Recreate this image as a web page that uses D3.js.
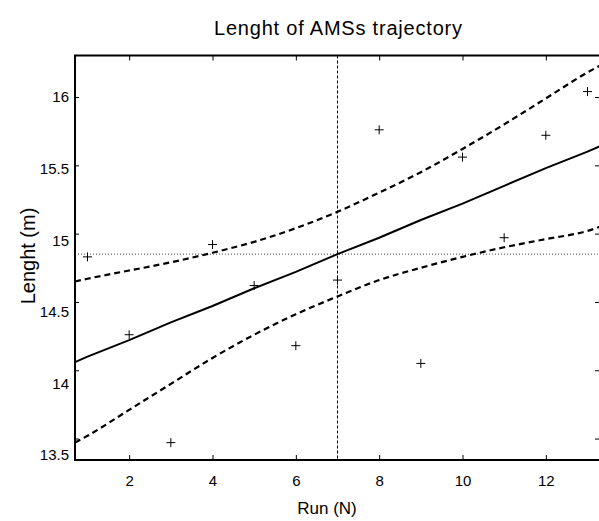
<!DOCTYPE html>
<html>
<head>
<meta charset="utf-8">
<script src="https://cdn.jsdelivr.net/npm/d3@7"></script>
<style>
  body { margin: 0; background: #fff; }
  text { font-family: "Liberation Sans", Arial, sans-serif; fill: #000; }
</style>
</head>
<body>
<div class="chart"></div>
<script>
var svgWidth = 599;
var svgHeight = 521;

// measured data (run number vs trajectory length)
var runs = [1, 2, 3, 4, 5, 6, 7, 8, 9, 10, 11, 12, 13];
var lengths = [14.83, 14.26, 13.47, 14.92, 14.62, 14.18, 14.66, 15.76, 14.05, 15.56, 14.97, 15.72, 16.04];

// fitted line and dashed bounds, read along x
var curveX = [0.7, 1, 2, 3, 4, 5, 6, 7, 8, 9, 10, 11, 12, 13, 13.3];
var fitY = [14.06, 14.10, 14.22, 14.35, 14.47, 14.60, 14.72, 14.85, 14.97, 15.10, 15.22, 15.35, 15.48, 15.60, 15.64];
var upperY = [14.65, 14.67, 14.73, 14.79, 14.86, 14.94, 15.04, 15.16, 15.30, 15.45, 15.62, 15.80, 15.99, 16.18, 16.23];
var lowerY = [13.47, 13.52, 13.71, 13.90, 14.09, 14.26, 14.41, 14.54, 14.66, 14.75, 14.83, 14.90, 14.96, 15.02, 15.05];

var meanRun = 7;
var meanLength = 14.85;

var xTicks = [2, 4, 6, 8, 10, 12];
var yTicks = [13.5, 14, 14.5, 15, 15.5, 16];

var box = { left: 75, top: 55.5, right: 600, bottom: 460 };

var svg = d3.select(".chart")
  .append("svg")
  .attr("width", svgWidth)
  .attr("height", svgHeight);

var x = d3.scaleLinear().domain([0.7, 13.3]).range([box.left, box.right]);
var y = d3.scaleLinear().domain([13.343, 16.304]).range([box.bottom, box.top]);
// tick labels on the y axis sit a little off their ticks in the original
var yLabel = d3.scaleLinear().domain([13.5, 16]).range([455, 97]);

// reference lines
svg.append("line")
  .attr("x1", x(meanRun)).attr("x2", x(meanRun))
  .attr("y1", box.top).attr("y2", box.bottom)
  .attr("stroke", "#000").attr("stroke-width", 1)
  .attr("stroke-dasharray", "3,2");

svg.append("line")
  .attr("x1", box.left).attr("x2", box.right)
  .attr("y1", y(meanLength)).attr("y2", y(meanLength))
  .attr("stroke", "#444").attr("stroke-width", 1)
  .attr("stroke-dasharray", "1,2");

// fit and bounds
var pts = function(arr) { return curveX.map((d, i) => [d, arr[i]]); };

var straight = d3.line().x(d => x(d[0])).y(d => y(d[1]));
var smooth = d3.line().x(d => x(d[0])).y(d => y(d[1])).curve(d3.curveMonotoneX);

svg.append("path")
  .attr("d", straight(pts(fitY)))
  .attr("fill", "none").attr("stroke", "#000").attr("stroke-width", 2);

[upperY, lowerY].forEach(function(b) {
  svg.append("path")
    .attr("d", smooth(pts(b)))
    .attr("fill", "none").attr("stroke", "#000").attr("stroke-width", 2.2)
    .attr("stroke-dasharray", "6,4");
});

// data markers
var marks = svg.selectAll(".mark")
  .data(runs)
  .enter()
  .append("path")
  .attr("class", "mark")
  .attr("d", (d, i) => {
    var cx = x(d), cy = y(lengths[i]);
    return `M${cx - 4.5},${cy}H${cx + 4.5}M${cx},${cy - 4.5}V${cy + 4.5}`;
  })
  .attr("stroke", "#000").attr("stroke-width", 1).attr("fill", "none");

// axes (ticks inward on all four sides)
svg.append("g")
  .attr("transform", `translate(0, ${box.bottom})`)
  .call(d3.axisBottom(x).tickValues(xTicks).tickSize(-5).tickPadding(15))
  .call(g => g.select(".domain").remove())
  .call(g => g.selectAll("text").attr("font-size", 15).attr("font-family", "Liberation Sans, Arial"));

svg.append("g")
  .attr("transform", `translate(0, ${box.top})`)
  .call(d3.axisTop(x).tickValues(xTicks).tickSize(-5).tickFormat(""))
  .call(g => g.select(".domain").remove());

svg.append("g")
  .attr("transform", `translate(${box.left}, 0)`)
  .call(d3.axisLeft(y).tickValues(yTicks).tickSize(-4).tickFormat(""))
  .call(g => g.select(".domain").remove());

svg.append("g")
  .attr("transform", `translate(${box.right}, 0)`)
  .call(d3.axisRight(y).tickValues(yTicks).tickSize(-5).tickFormat(""))
  .call(g => g.select(".domain").remove());

svg.selectAll(".tick line").attr("stroke", "#000").attr("stroke-width", 1);

svg.selectAll(".ylab")
  .data(yTicks)
  .enter()
  .append("text")
  .attr("x", 69)
  .attr("y", d => yLabel(d))
  .attr("dy", "0.36em")
  .attr("text-anchor", "end")
  .attr("font-size", 15)
  .text(d => d);

svg.append("rect")
  .attr("x", box.left).attr("y", box.top)
  .attr("width", box.right - box.left).attr("height", box.bottom - box.top)
  .attr("fill", "none").attr("stroke", "#000").attr("stroke-width", 2);

// titles
svg.append("text")
  .attr("x", 338).attr("y", 35)
  .attr("text-anchor", "middle")
  .attr("font-size", 20)
  .attr("textLength", 248)
  .attr("lengthAdjust", "spacing")
  .text("Lenght of AMSs trajectory");

svg.append("text")
  .attr("x", 327).attr("y", 514)
  .attr("text-anchor", "middle")
  .attr("font-size", 17)
  .text("Run (N)");

svg.append("text")
  .attr("transform", "rotate(-90)")
  .attr("x", -256).attr("y", 35)
  .attr("text-anchor", "middle")
  .attr("font-size", 20)
  .text("Lenght (m)");
</script>
</body>
</html>
